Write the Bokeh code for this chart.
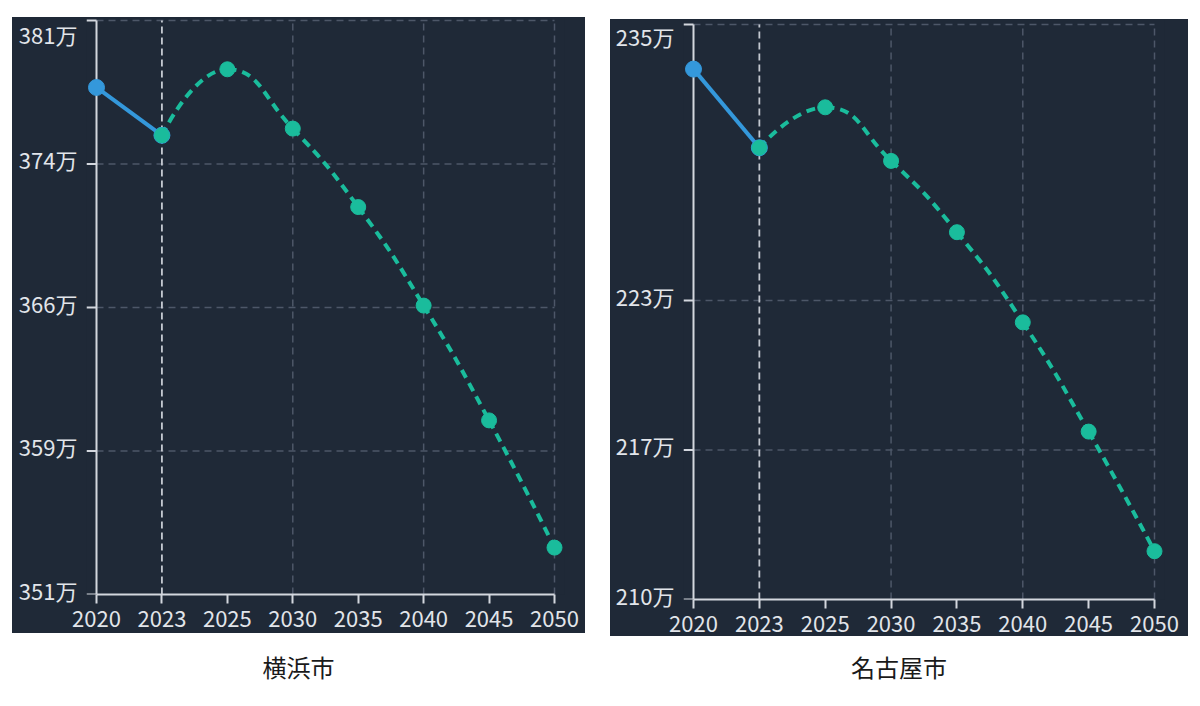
import math
from bokeh.plotting import figure
from bokeh.models import Range1d, FixedTicker, Div, LinearAxis
from bokeh.layouts import row, column
from bokeh.embed import file_html
from bokeh.resources import INLINE

# ---------------- data (万人) ----------------
years = ["2020", "2023", "2025", "2030", "2035", "2040", "2045", "2050"]
actual_years = ["2020", "2023"]
forecast_years = ["2023", "2025", "2030", "2035", "2040", "2045", "2050"]
grid_years = ["2030", "2040", "2050"]
split_year = "2023"

yokohama_actual = [377.5, 375.0]
yokohama_forecast = [375.0, 378.45, 375.35, 371.25, 366.1, 360.1, 353.45]
yokohama_y_ticks = [351, 358.5, 366, 373.5, 381]
yokohama_y_labels = ["351万", "359万", "366万", "374万", "381万"]

nagoya_actual = [233.06, 229.64]
nagoya_forecast = [229.64, 231.40, 229.07, 225.97, 222.05, 217.30, 212.10]
nagoya_y_ticks = [210, 216.5, 223, 235]
nagoya_y_labels = ["210万", "217万", "223万", "235万"]

titles = ["横浜市", "名古屋市"]

# ---------------- style ----------------
BG = "#1f2937"
BLUE = "#3498db"
GREEN = "#1abc9c"
AXIS = "#d3d7de"
LABEL = "#e2e5ea"
GRID = "#4d5768"
SPLIT = "#c3c8d0"
FONT = "Noto Sans CJK JP"
FONT_SIZE = "22px"
PAD = 10             # px between frame edge and the y axis line (room for markers)
Y_STANDOFF = 3
LABEL_LIFT = 5       # px: optical correction of the y label baseline
TOP_LABEL_DROP = 7   # px: the max label sits just below its tick


def smooth_segments(xs, ys, sx, sy, smooth=0.5):
    """Cubic bezier control points (ECharts-like smoothing, computed in pixel space)."""
    pts = [(x * sx, y * sy) for x, y in zip(xs, ys)]
    n = len(pts)
    segs = []
    cp0 = pts[0]
    for i in range(1, n):
        x, y = pts[i]
        px, py = pts[i - 1]
        if i == n - 1:
            cp1 = (x, y)
            ncp0 = None
        else:
            nx, ny = pts[i + 1]
            vx, vy = nx - px, ny - py
            l0 = math.hypot(x - px, y - py)
            l1 = math.hypot(nx - x, ny - y)
            r = l1 / (l0 + l1)
            ncx = x + vx * smooth * r
            ncy = y + vy * smooth * r
            ncx = max(min(ncx, max(nx, x)), min(nx, x))
            ncy = max(min(ncy, max(ny, y)), min(ny, y))
            vx, vy = ncx - x, ncy - y
            c1x = x - vx * l0 / l1
            c1y = y - vy * l0 / l1
            c1x = max(min(c1x, max(px, x)), min(px, x))
            c1y = max(min(c1y, max(py, y)), min(py, y))
            vx, vy = x - c1x, y - c1y
            ncx = x + vx * l1 / l0
            ncy = y + vy * l1 / l0
            cp1 = (c1x, c1y)
            ncp0 = (ncx, ncy)
        segs.append((pts[i - 1], cp0, cp1, pts[i]))
        cp0 = ncp0
    out = dict(x0=[], y0=[], x1=[], y1=[], cx0=[], cy0=[], cx1=[], cy1=[])
    for a, c0, c1, b in segs:
        out["x0"].append(a[0] / sx); out["y0"].append(a[1] / sy)
        out["cx0"].append(c0[0] / sx); out["cy0"].append(c0[1] / sy)
        out["cx1"].append(c1[0] / sx); out["cy1"].append(c1[1] / sy)
        out["x1"].append(b[0] / sx); out["y1"].append(b[1] / sy)
    return out


def make_chart(actual, forecast, y_ticks, y_labels, fig_w, fig_h,
               ax_left, ax_right, ax_top, ax_bottom):
    n = len(years)
    xi = {y: i for i, y in enumerate(years)}
    y_min, y_max = y_ticks[0], y_ticks[-1]
    sx = (ax_right - ax_left) / (n - 1)
    sy = (ax_bottom - ax_top) / (y_max - y_min)

    p = figure(width=fig_w, height=fig_h, output_backend="svg", toolbar_location=None,
               x_range=Range1d(-PAD / sx, (n - 1) + PAD / sx),
               y_range=Range1d(y_min, y_max + ax_top / sy),
               x_axis_type=None, y_axis_type=None, min_border=0,
               background_fill_color=BG, border_fill_color=BG, outline_line_color=None)
    p.styles = {"background-color": BG}
    p.min_border_left = ax_left - PAD
    p.min_border_right = fig_w - ax_right - PAD
    p.min_border_top = 0
    p.min_border_bottom = fig_h - ax_bottom

    # x axis (categories)
    xaxis = LinearAxis(ticker=FixedTicker(ticks=list(range(n))),
                       major_label_overrides={i: y for i, y in enumerate(years)},
                       bounds=(0, n - 1))
    xaxis.axis_line_color = AXIS
    xaxis.axis_line_width = 2
    xaxis.major_tick_line_color = AXIS
    xaxis.major_tick_line_width = 2
    xaxis.major_tick_in = 0
    xaxis.major_tick_out = 9
    xaxis.major_label_standoff = 7

    # y axis labels (max label dropped just below its tick)
    lift = LABEL_LIFT / sy
    label_pos = [t + lift for t in y_ticks[:-1]] + [y_max + lift - TOP_LABEL_DROP / sy]
    yaxis = LinearAxis(ticker=FixedTicker(ticks=label_pos),
                       major_label_overrides={t: l for t, l in zip(label_pos, y_labels)},
                       bounds=(y_min, y_max + lift))
    yaxis.axis_line_color = None
    yaxis.major_tick_line_color = None
    yaxis.major_label_standoff = Y_STANDOFF
    for ax in (xaxis, yaxis):
        ax.minor_tick_line_color = None
        ax.major_label_text_font = FONT
        ax.major_label_text_font_size = FONT_SIZE
        ax.major_label_text_color = LABEL
    p.add_layout(xaxis, "below")
    p.add_layout(yaxis, "left")

    # grid lines
    hy = [t for t in y_ticks if t != y_min]
    p.segment(x0=[0] * len(hy), y0=hy, x1=[n - 1] * len(hy), y1=hy,
              line_color=GRID, line_width=1.5, line_dash="7 5")
    gx = [xi[y] for y in grid_years]
    p.segment(x0=gx, y0=[y_min] * len(gx), x1=gx, y1=[y_max] * len(gx),
              line_color=GRID, line_width=1.5, line_dash="7 5")
    sxv = xi[split_year]
    p.segment(x0=[sxv], y0=[y_min], x1=[sxv], y1=[y_max],
              line_color=SPLIT, line_width=1.8, line_dash="7 4")
    # y axis line and its ticks at the first category
    p.segment(x0=[0], y0=[y_min], x1=[0], y1=[y_max], line_color=AXIS, line_width=2)
    p.segment(x0=[-PAD / sx] * len(y_ticks), y0=y_ticks, x1=[0] * len(y_ticks), y1=y_ticks,
              line_color=AXIS, line_width=2)

    ax_x = [xi[y] for y in actual_years]
    fx = [xi[y] for y in forecast_years]

    p.line(ax_x, actual, line_color=BLUE, line_width=4)
    bz = smooth_segments(fx, forecast, sx, sy)
    p.bezier(**bz, line_color=GREEN, line_width=4, line_dash="9 6")
    p.scatter(ax_x, actual, size=16, color=BLUE)
    p.scatter(fx, forecast, size=15, color=GREEN)
    return p


p1 = make_chart(yokohama_actual, yokohama_forecast, yokohama_y_ticks, yokohama_y_labels,
                573, 616, 84, 542, 3, 577)
p2 = make_chart(nagoya_actual, nagoya_forecast, nagoya_y_ticks, nagoya_y_labels,
                578, 617, 83, 544, 5, 580)


def caption(text, w, pad_top):
    return Div(text=f'<div style="width:{w}px;text-align:center;font-family:\'{FONT}\';'
                    f'font-size:24px;line-height:24px;color:#1a1a1a;padding-top:{pad_top}px">{text}</div>',
               width=w, height=50)


p1.margin = (17, 0, 0, 12)
p2.margin = (19, 0, 0, 25)
c1 = caption(titles[0], 573, 22)
c1.margin = (0, 0, 0, 12)
c2 = caption(titles[1], 578, 19)
c2.margin = (0, 0, 0, 25)
layout = row(column(p1, c1), column(p2, c2))

open("out.html", "w").write(file_html(layout, INLINE))
